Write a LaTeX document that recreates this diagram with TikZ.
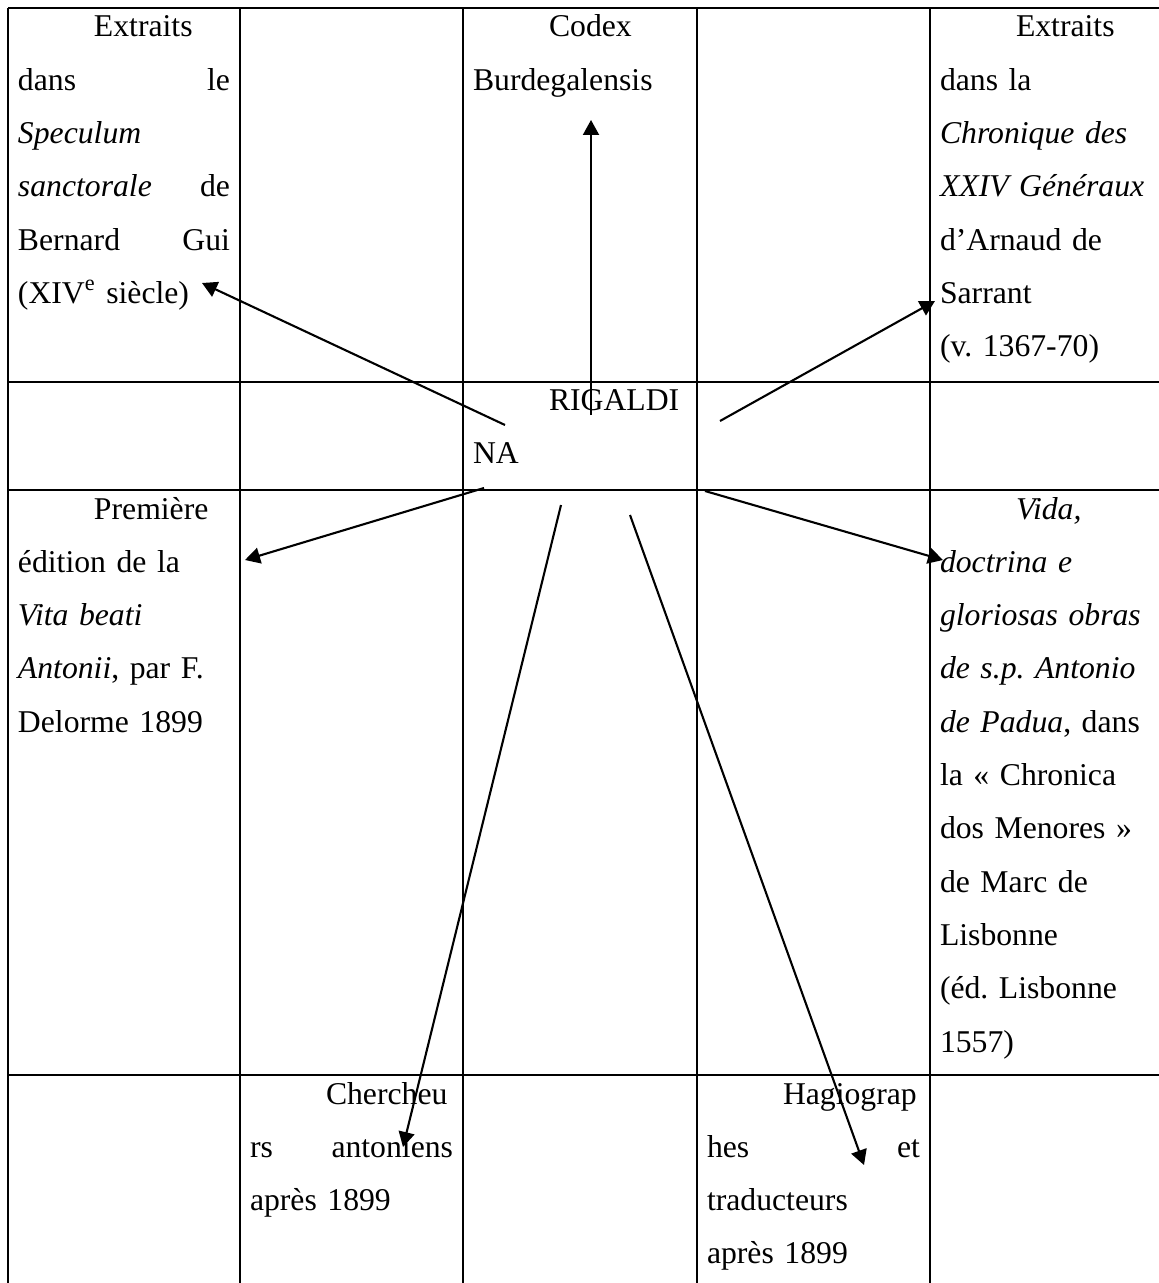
\documentclass[tikz,border=0pt]{standalone}
\usepackage{fontspec}
\setmainfont{Liberation Serif}
\usetikzlibrary{arrows.meta}
\hyphenpenalty=10000
\exhyphenpenalty=10000
\frenchspacing
\newcommand\cellstrut{\rule{0pt}{12pt}}
\newcommand\firstind{\hspace*{38pt}}
\begin{document}
\begin{tikzpicture}[x=0.5pt,y=-0.5pt,
  grid/.style={line width=1.05pt},
  cell/.style={anchor=north west, inner sep=0pt, outer sep=0pt,
    font=\fontsize{15.85}{26.65}\selectfont\frenchspacing},
  arr/.style={line width=1.05pt, -{Triangle[length=7.5pt,width=8pt]}}]
\useasboundingbox (0,0) rectangle (1159,1283);
% table
\foreach \yy in {8,382,490,1075} \draw[grid] (8,\yy) -- (1159,\yy);
\foreach \xx in {8,240,463,697,930} \draw[grid] (\xx,8) -- (\xx,1283);
% cells
\node[cell, text width=106pt] (speculum) at (18,13)
  {\cellstrut\firstind Extraits\\ dans\hfill le\\ \textit{Speculum}\\ \textit{sanctorale}\hfill de\\ Bernard\hfill Gui\\ (XIV\textsuperscript{e}\ siècle)};
\node[cell, text width=107pt] (codex) at (473,13)
  {\cellstrut\firstind Codex\\ Burdegalensis};
\node[cell, text width=110pt] (chronique) at (940,13)
  {\cellstrut\firstind Extraits\\ dans la\\ \textit{Chronique des}\\ \textit{XXIV Généraux}\\ d’Arnaud de\\ Sarrant\\ (v. 1367-70)};
\node[cell, text width=107pt] (rigaldina) at (473,386)
  {\cellstrut\firstind RIGALDI\\ NA};
\node[cell, text width=106pt] (premiere) at (18,495)
  {\cellstrut\firstind Première\\ édition de la\\ \textit{Vita beati}\\ \textit{Antonii}, par F.\\ Delorme 1899};
\node[cell, text width=110pt] (vida) at (940,495)
  {\cellstrut\firstind\textit{Vida,}\\ \textit{doctrina e}\\ \textit{gloriosas obras}\\ \textit{de s.p. Antonio}\\ \textit{de Padua}, dans\\ la « Chronica\\ dos Menores »\\ de Marc de\\ Lisbonne\\ (éd. Lisbonne\\ 1557)};
\node[cell, text width=101.5pt] (chercheurs) at (250,1080)
  {\cellstrut\firstind Chercheu\\ rs\hfill antoniens\\ après 1899};
\node[cell, text width=106.5pt] (hagio) at (707,1080)
  {\cellstrut\firstind Hagiograp\\ hes\hfill et\\ traducteurs\\ après 1899};
% arrow ends
\coordinate (s1) at (591,415); \coordinate (t1) at (591,120);
\coordinate (s2) at (505,425); \coordinate (t2) at (202,283);
\coordinate (s3) at (720,421); \coordinate (t3) at (935,301);
\coordinate (s4) at (484,488); \coordinate (t4) at (245,560);
\coordinate (s5) at (705,491); \coordinate (t5) at (943,560);
\coordinate (s6) at (561,505); \coordinate (t6) at (403,1147);
\coordinate (s7) at (630,515); \coordinate (t7) at (864,1165);
\foreach \i in {1,...,7} \draw[arr] (s\i) -- (t\i);
\end{tikzpicture}
\end{document}
